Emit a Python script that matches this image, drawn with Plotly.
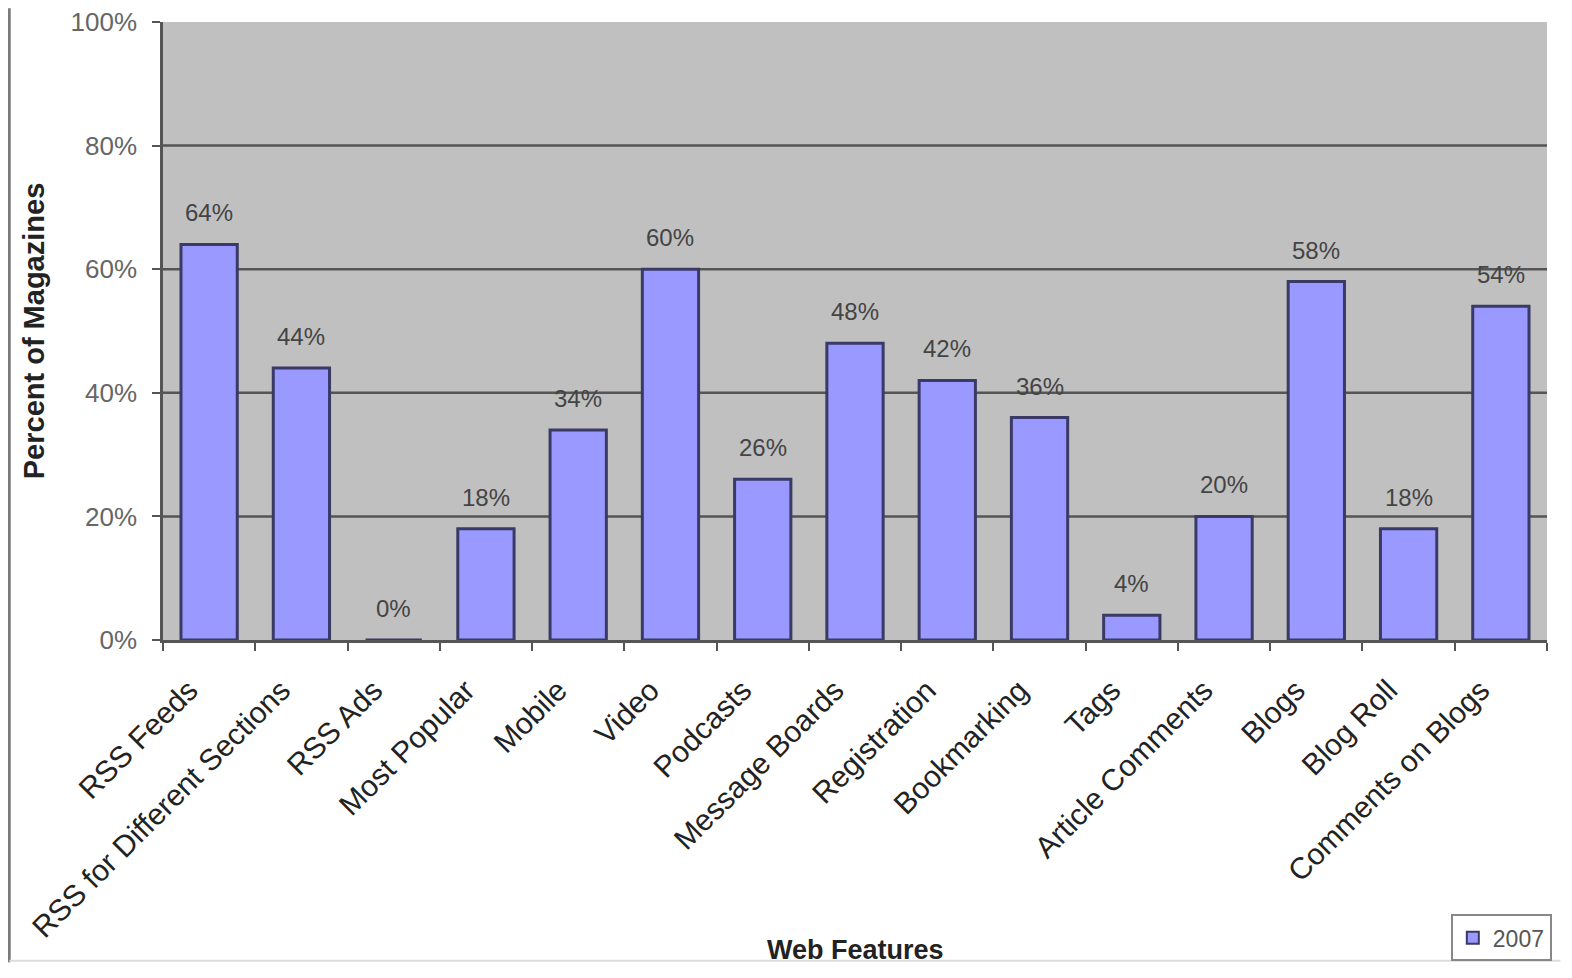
import plotly.graph_objects as go

categories = ["RSS Feeds", "RSS for Different Sections", "RSS Ads", "Most Popular",
              "Mobile", "Video", "Podcasts", "Message Boards", "Registration",
              "Bookmarking", "Tags", "Article Comments", "Blogs", "Blog Roll",
              "Comments on Blogs"]
values_2007 = [64, 44, 0, 18, 34, 60, 26, 48, 42, 36, 4, 20, 58, 18, 54]
y_ticks = [0, 20, 40, 60, 80, 100]
grid_values = [20, 40, 60, 80]
series_name = "2007"
x_title = "Web Features"
y_title = "Percent of Magazines"

FONT = "Liberation Sans, Arial, sans-serif"

fig = go.Figure()
fig.add_trace(go.Bar(
    x=categories, y=values_2007, name=series_name,
    marker=dict(color="#9999FF", line=dict(color="#3a3a66", width=3)),
    width=0.61,
    showlegend=True,
))

annotations = []
for c, v in zip(categories, values_2007):
    annotations.append(dict(
        x=c, y=v, xref="x", yref="y", text=f"{v}%", showarrow=False,
        yanchor="bottom", yshift=16,
        font=dict(family=FONT, size=24, color="#444444"),
    ))
# x-axis title (placed close to the rotated labels as in the original)
annotations.append(dict(
    x=0.5, y=-0.5016, xref="paper", yref="paper", text=f"<b>{x_title}</b>",
    showarrow=False, xanchor="center", yanchor="middle",
    font=dict(family=FONT, size=27, color="#222222"),
))

shapes = []
for g in grid_values:
    shapes.append(dict(type="line", xref="paper", yref="y", x0=0, x1=1, y0=g, y1=g,
                       line=dict(color="#555555", width=2.5), layer="below"))
# chart-area left border and bottom edge
shapes.append(dict(type="line", xref="paper", yref="paper",
                   x0=-0.1111, x1=-0.1111, y0=-0.5216, y1=1.0224,
                   line=dict(color="#7a7a7a", width=3)))
shapes.append(dict(type="line", xref="paper", yref="paper",
                   x0=-0.111, x1=1.0097, y0=-0.5192, y1=-0.5192,
                   line=dict(color="#dddddd", width=2)))

fig.update_layout(
    width=1556, height=965,
    margin=dict(l=155, r=14, t=14, b=326),
    paper_bgcolor="white",
    plot_bgcolor="#C0C0C0",
    font=dict(family=FONT, size=26, color="#222222"),
    bargap=0.39,
    annotations=annotations,
    shapes=shapes,
    legend=dict(
        x=0.9305, y=-0.52, xanchor="left", yanchor="bottom",
        bgcolor="white", bordercolor="#888888", borderwidth=2,
        font=dict(family=FONT, size=23, color="#555555"),
        itemsizing="constant",
    ),
)

fig.update_xaxes(
    type="category",
    tickangle=-45,
    tickfont=dict(family=FONT, size=30, color="#222222"),
    ticklabelstandoff=18,
    ticklabelshift=-20,
    showline=True, linecolor="#555555", linewidth=2.5,
    ticks="outside", tickson="boundaries", ticklen=8, tickcolor="#555555", tickwidth=2,
    showgrid=False,
    automargin=False,
)
fig.update_yaxes(
    range=[0, 100],
    tickvals=y_ticks,
    ticktext=[f"{t}%" for t in y_ticks],
    tickfont=dict(family=FONT, size=26, color="#666666"),
    ticklabelstandoff=10,
    ticklabeloverflow="allow",
    showline=True, linecolor="#555555", linewidth=2.5,
    ticks="outside", ticklen=8, tickcolor="#555555", tickwidth=2,
    showgrid=False, zeroline=False,
    title=dict(text=f"<b>{y_title}</b>", font=dict(family=FONT, size=29, color="#222222"),
               standoff=18),
    automargin=False,
)

fig.write_html("out.html")
